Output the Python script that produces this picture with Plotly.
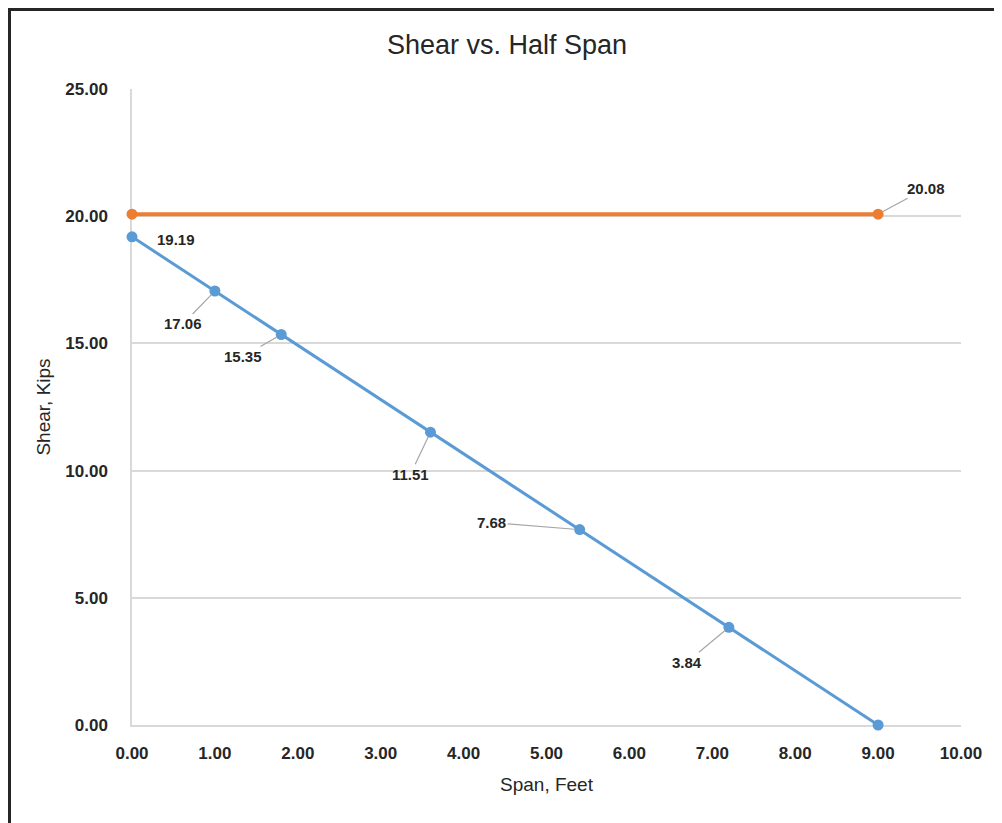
import plotly.graph_objects as go

span = [0.0, 1.0, 1.8, 3.6, 5.4, 7.2, 9.0]
shear = [19.19, 17.06, 15.35, 11.51, 7.68, 3.84, 0.0]
cap_x = [0.0, 9.0]
cap_y = [20.08, 20.08]

x_ticks = [0, 1, 2, 3, 4, 5, 6, 7, 8, 9, 10]
y_ticks = [0, 5, 10, 15, 20, 25]

BLUE = "#5b9bd5"
ORANGE = "#ed7d31"
FONT = "Liberation Sans"
TXT = "#262626"

fig = go.Figure()
fig.add_trace(go.Scatter(x=span, y=shear, mode="lines+markers", cliponaxis=False,
                         line=dict(color=BLUE, width=3),
                         marker=dict(color=BLUE, size=11), showlegend=False))
fig.add_trace(go.Scatter(x=cap_x, y=cap_y, mode="lines+markers", cliponaxis=False,
                         line=dict(color=ORANGE, width=4),
                         marker=dict(color=ORANGE, size=11), showlegend=False))

label_offsets = {
    1: (-32, 33), 2: (-38, 22), 3: (-20, 42), 4: (-88, -7), 5: (-42, 35),
}
lab_font = dict(family=FONT, size=15, color=TXT, weight="bold")
anns = []
anns.append(dict(x=span[0], y=shear[0], text=f"{shear[0]:.2f}", showarrow=False,
                 xshift=44, yshift=-3, font=lab_font))
for i, (ax, ay) in label_offsets.items():
    anns.append(dict(x=span[i], y=shear[i], text=f"{shear[i]:.2f}", showarrow=True,
                     arrowhead=0, arrowwidth=1.2, arrowcolor="#a6a6a6",
                     ax=ax, ay=ay, standoff=5, font=lab_font))
anns.append(dict(x=cap_x[1], y=cap_y[1], text=f"{cap_y[1]:.2f}", showarrow=True,
                 arrowhead=0, arrowwidth=1.2, arrowcolor="#a6a6a6",
                 ax=48, ay=-26, standoff=5, font=lab_font))

# page body has 8px margin: shift everything by -8
L, T, PW, PH = 124, 81, 829, 636
fig.update_layout(
    width=994, height=815,
    margin=dict(l=L, r=41, t=T, b=98),
    paper_bgcolor="white", plot_bgcolor="white",
    title=dict(text="Shear vs. Half Span", x=(507 - 8) / 994, xanchor="center",
               y=1 - (45 - 8) / 815, yanchor="middle",
               font=dict(family=FONT, size=27, color=TXT)),
    annotations=anns,
    shapes=[dict(type="rect", xref="paper", yref="paper",
                 x0=(1.5 - L) / PW, x1=(1030 - L) / PW,
                 y0=(T + PH - 840) / PH, y1=(T + PH - 1.5) / PH,
                 line=dict(color="#262626", width=3), layer="above")],
)
fig.update_xaxes(range=[0, 10], tickvals=x_ticks, tickformat=".2f",
                 showgrid=False, showline=True, linecolor="#d9d9d9", linewidth=1.5,
                 zeroline=False, ticks="", ticklabelstandoff=12, layer="below traces",
                 tickfont=dict(family=FONT, size=17, color=TXT, weight="bold"),
                 title=dict(text="Span, Feet", standoff=16,
                            font=dict(family=FONT, size=19, color=TXT)))
fig.update_yaxes(range=[0, 25], tickvals=y_ticks, tickformat=".2f",
                 showgrid=True, gridcolor="#d9d9d9", gridwidth=1.5,
                 showline=True, linecolor="#d9d9d9", linewidth=1.5,
                 zeroline=False, ticks="", ticklabelstandoff=19, layer="below traces",
                 tickfont=dict(family=FONT, size=17, color=TXT, weight="bold"),
                 title=dict(text="Shear, Kips", standoff=10,
                            font=dict(family=FONT, size=19, color=TXT)))

fig.write_html("out.html")
